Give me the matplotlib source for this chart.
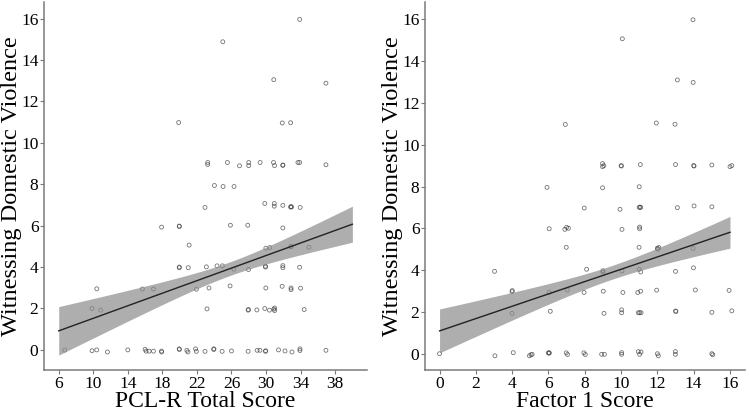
import matplotlib
matplotlib.use("Agg")
import matplotlib.pyplot as plt
import numpy as np

# PCL-R total score vs witnessing domestic violence (jittered points as drawn)
pcl_x = [33.9, 25.0, 30.9, 36.94, 19.89, 31.88, 32.85,
         23.25, 23.25, 25.53, 26.93, 28.0, 28.0, 29.32, 30.87, 30.99, 31.95, 31.95, 33.7, 33.9, 36.94,
         24.03, 25.03, 26.3,
         22.94, 29.86, 30.96, 30.96, 31.95, 32.85, 32.9, 32.95, 33.96,
         17.91, 19.96, 19.96, 25.88, 27.89, 31.95,
         21.1, 29.98, 30.44, 32.9, 32.9, 34.97,
         19.96, 19.96, 21.0, 23.1, 24.33, 24.95, 26.27, 27.97, 29.94, 29.94, 31.95, 31.95, 33.89,
         10.41, 15.69, 16.97, 21.94, 23.4, 25.84, 29.98, 31.87, 32.9, 32.9, 34.0,
         9.86, 10.86, 23.17, 27.93, 27.97, 28.94, 29.86, 30.4, 30.9, 31.0, 31.0, 34.42,
         6.7, 9.86, 10.4, 11.64, 14.0, 16.0, 16.12, 16.47, 16.97, 17.9, 17.92, 19.95, 19.97,
         20.84, 20.96, 21.85, 21.94, 22.94, 23.95, 23.97, 24.92, 26.0, 27.93, 28.98, 29.3,
         29.94, 29.96, 31.45, 32.2, 33.0, 33.93, 33.93, 36.94]
pcl_y = [15.96, 14.88, 13.05, 12.88, 10.98, 10.96, 10.97,
         9.05, 8.95, 9.05, 8.89, 9.05, 8.9, 9.05, 9.05, 8.9, 8.91, 8.93, 9.05, 9.05, 8.94,
         7.94, 7.89, 7.89,
         6.88, 7.07, 7.07, 6.94, 6.98, 6.9, 6.92, 6.9, 6.88,
         5.93, 5.96, 5.98, 6.02, 6.02, 5.89,
         5.06, 4.91, 4.94, 5.0, 4.98, 4.96,
         3.97, 4.0, 3.97, 4.01, 4.06, 4.06, 3.9, 3.88, 4.04, 4.0, 4.07, 3.97, 3.99,
         2.95, 2.94, 2.94, 2.93, 2.99, 3.09, 2.99, 3.07, 2.99, 2.91, 2.98,
         2.0, 1.92, 1.98, 1.92, 1.95, 1.93, 2.0, 1.92, 1.97, 1.9, 2.02, 1.95,
         -0.01, -0.04, 0.0, -0.1, 0.0, 0.03, -0.06, -0.06, -0.06, -0.06, -0.1, 0.05, 0.02,
         -0.02, -0.1, 0.05, -0.07, -0.07, 0.02, 0.05, -0.07, -0.05, -0.07, -0.02, -0.02,
         -0.07, -0.04, 0.0, -0.05, -0.1, 0.05, -0.03, -0.02]

# Factor 1 score vs witnessing domestic violence
f1_x = [13.96, 10.07, 13.1, 13.97, 6.93, 11.94, 12.97,
        8.98, 8.98, 9.05, 10.0, 10.02, 11.06, 13.0, 14.0, 14.02, 15.0, 16.0, 16.1,
        5.92, 8.98, 11.0,
        7.97, 9.94, 11.0, 11.08, 11.04, 13.1, 14.02, 15.0,
        6.04, 6.9, 7.0, 7.1, 10.05, 11.02, 11.02,
        6.98, 10.99, 12.0, 12.08, 12.02, 13.97,
        3.03, 8.1, 9.0, 9.0, 10.05, 11.0, 11.08, 13.0, 13.99,
        3.99, 4.01, 6.04, 7.04, 7.96, 9.02, 10.1, 10.92, 11.08, 11.96, 14.09, 15.95,
        3.99, 6.1, 9.06, 10.03, 10.03, 10.95, 11.02, 11.1, 13.0, 13.02, 15.0, 16.1,
        0.0, 3.05, 4.06, 4.95, 5.04, 5.1, 6.0, 6.05, 6.02, 6.98, 7.05, 7.95, 8.03,
        8.93, 9.08, 10.03, 10.03, 10.95, 11.02, 11.1, 12.0, 12.05, 12.99, 12.99, 15.0, 15.05]
f1_y = [15.98, 15.07, 13.1, 12.98, 10.97, 11.04, 10.98,
        9.1, 8.95, 9.0, 9.0, 8.98, 9.05, 9.05, 9.0, 8.98, 9.03, 8.95, 9.0,
        7.96, 7.94, 7.99,
        6.97, 6.91, 7.0, 7.0, 7.02, 6.99, 7.07, 7.03,
        5.98, 5.95, 6.05, 6.0, 5.95, 6.06, 5.98,
        5.09, 5.09, 5.05, 5.08, 5.0, 5.04,
        3.94, 4.04, 3.97, 3.9, 3.96, 4.04, 3.91, 3.94, 4.11,
        2.97, 3.02, 2.93, 3.05, 2.93, 2.99, 2.93, 2.93, 2.99, 3.04, 3.05, 3.03,
        1.93, 2.03, 1.93, 2.1, 1.96, 1.96, 1.96, 1.96, 2.04, 2.02, 1.98, 2.05,
        0.0, -0.1, 0.05, -0.1, -0.05, -0.03, 0.03, 0.03, 0.05, 0.04, -0.04, 0.04, -0.04,
        -0.03, -0.03, 0.05, -0.03, 0.1, -0.03, 0.08, 0.0, -0.1, 0.1, -0.03, 0.0, -0.05]

# fitted lm line: (x_start, x_end), (y_start, y_end)
pcl_fit_x = (6, 40)
pcl_fit_y = (0.92, 6.07)
f1_fit_x = (0, 16)
f1_fit_y = (1.09, 5.81)
# 95% CI half widths: at start, narrowest, at end
pcl_ci = (1.17, 0.33, 0.87)
f1_ci = (1.05, 0.33, 0.76)

pcl_ticks = [6, 10, 14, 18, 22, 26, 30, 34, 38]
f1_ticks = [0, 2, 4, 6, 8, 10, 12, 14, 16]
y_ticks = [0, 2, 4, 6, 8, 10, 12, 14, 16]

plt.rcParams['font.family'] = ['Liberation Serif', 'DejaVu Serif']


def band(fit_x, fit_y, ci, xs):
    x0, x1 = fit_x
    slope = (fit_y[1] - fit_y[0]) / (x1 - x0)
    fit = fit_y[0] + slope * (xs - x0)
    h0, hm, h1 = ci
    # hyperbolic lm confidence band: hw^2 = hm^2 + k^2 (x - xm)^2
    r = np.sqrt((h0 ** 2 - hm ** 2) / (h1 ** 2 - hm ** 2))
    xm = (x0 + r * x1) / (1 + r)
    k = np.sqrt(h1 ** 2 - hm ** 2) / (x1 - xm)
    hw = np.sqrt(hm ** 2 + k ** 2 * (xs - xm) ** 2)
    return fit, fit - hw, fit + hw


def panel(ax, x, y, fit_x, fit_y, ci, ticks, xlabel, xlim, ylim, ylab_x):
    xs = np.linspace(fit_x[0], fit_x[1], 120)
    fit, lo, hi = band(fit_x, fit_y, ci, xs)
    ax.scatter(x, y, s=8, facecolors='none', edgecolors='#3a3a3a',
               linewidths=0.6, alpha=0.7, zorder=2)
    ax.fill_between(xs, lo, hi, color='#8c8c8c', alpha=0.7, linewidth=0, zorder=3)
    ax.plot(xs, fit, color='#222222', linewidth=1.0, zorder=4)
    ax.set_xticks(ticks)
    ax.set_yticks(y_ticks)
    ax.set_xlim(*xlim)
    ax.set_ylim(*ylim)
    for side in ['top', 'right']:
        ax.spines[side].set_visible(False)
    for side in ['left', 'bottom']:
        ax.spines[side].set_color('#7a7a7a')
        ax.spines[side].set_linewidth(1.1)
    ax.tick_params(colors='#7a7a7a', length=3, width=0.8, labelsize=12.5,
                   labelcolor='black', pad=1)
    ax.set_xlabel(xlabel, fontsize=17)
    ax.xaxis.set_label_coords(0.5, -0.057)
    ax.set_ylabel('Witnessing Domestic Violence', fontsize=17.5)
    ax.yaxis.set_label_coords(ylab_x, 0.5)


fig = plt.figure(figsize=(7.5, 4.16), dpi=100)
ax1 = fig.add_axes([0.0587, 0.1106, 0.4307, 0.8846])
ax2 = fig.add_axes([0.5667, 0.1106, 0.426, 0.8846])

panel(ax1, pcl_x, pcl_y, pcl_fit_x, pcl_fit_y, pcl_ci, pcl_ticks,
      'PCL-R Total Score', (4.3, 41.7), (-0.97, 16.8), -0.068)
panel(ax2, f1_x, f1_y, f1_fit_x, f1_fit_y, f1_ci, f1_ticks,
      'Factor 1 Score', (-0.8, 16.8), (-0.78, 16.83), -0.069)

fig.savefig('out.png', dpi=100)
